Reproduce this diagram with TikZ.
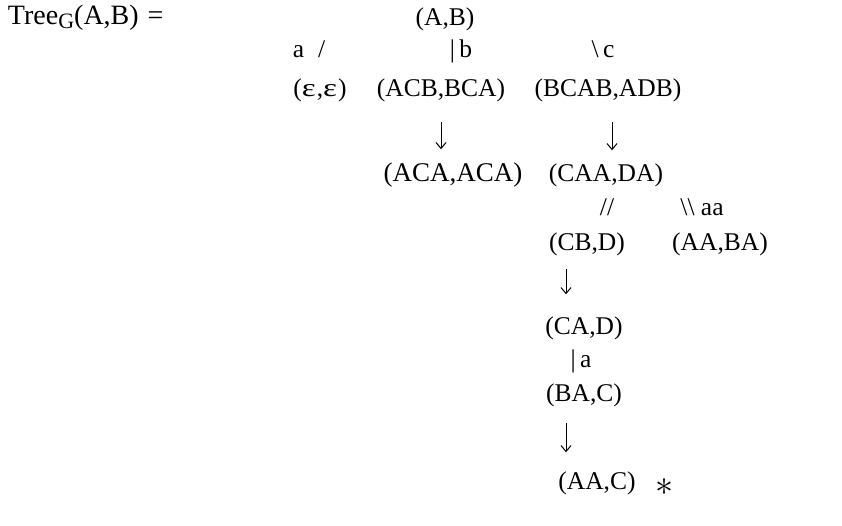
\documentclass[tikz,border=0pt]{standalone}
\usepackage{fontspec}
\setmainfont{Liberation Serif}
\usetikzlibrary{arrows.meta}
\begin{document}
\begin{tikzpicture}[x=1pt,y=-1pt,
  every node/.style={inner sep=0pt,outer sep=0pt,font=\fontsize{25.5}{28}\selectfont},
  pair/.style={anchor=base},
  glyph/.style={anchor=base},
  darr/.style={line width=1pt,-{Straight Barb[length=6pt,width=10pt,line width=1pt]}}]
\useasboundingbox (0,0) rectangle (842,526);
\node[anchor=base west,font=\fontsize{28}{30}\selectfont] (title) at (8,25) {Tree\raisebox{-0.3ex}{\fontsize{22}{22}\selectfont G}(A,B)\hspace{9pt}=};
\node[pair] (ab) at (445,26) {(A,B)};
\node[glyph] (la) at (309,58) {a\hspace{14pt}/};
\node[glyph] (lb) at (461,58) {|\,b};
\node[glyph] (lc) at (603,58) {\textbackslash\,c};
\node[pair] (ee) at (320,97) {(\scalebox{1.3}[1.0]{ε}\kern1pt,\scalebox{1.3}[1.0]{ε}\kern1pt)};
\node[pair] (acb) at (441,97) {(ACB,BCA)};
\node[pair] (bcab) at (608,97) {(BCAB,ADB)};
\node[pair] (aca) at (453,182) {\fontsize{27}{28}\selectfont(ACA,ACA)};
\node[pair] (caa) at (606,182) {(CAA,DA)};
\node[glyph] (l2) at (607,216) {//};
\node[glyph] (l3) at (702,216) {\textbackslash\textbackslash\ aa};
\node[pair] (cbd) at (587,251) {(CB,D)};
\node[pair] (aaba) at (720,251) {(AA,BA)};
\node[pair] (cad) at (584,334) {(CA,D)};
\node[glyph] (l4) at (581,367) {|\,a};
\node[pair] (bac) at (584,401) {(BA,C)};
\node[pair] (aac) at (597,489) {(AA,C)};
\node[anchor=center] (star) at (665,487) {\scalebox{1.45}{$\ast$}};
\draw[darr,shorten <=20pt,shorten >=14pt] (acb.south) -- (acb.south |- aca.north);
\draw[darr,shorten <=20pt,shorten >=14pt] ([xshift=4pt]bcab.south) -- ([xshift=4pt]bcab.south |- caa.north);
\draw[darr,shorten <=13pt,shorten >=22pt] ([xshift=-21pt]cbd.south) -- ([xshift=-21pt]cbd.south |- cad.north);
\draw[darr,shorten <=17pt,shorten >=19pt] ([xshift=-18pt]bac.south) -- ([xshift=-18pt]bac.south |- aac.north);
\end{tikzpicture}
\end{document}
